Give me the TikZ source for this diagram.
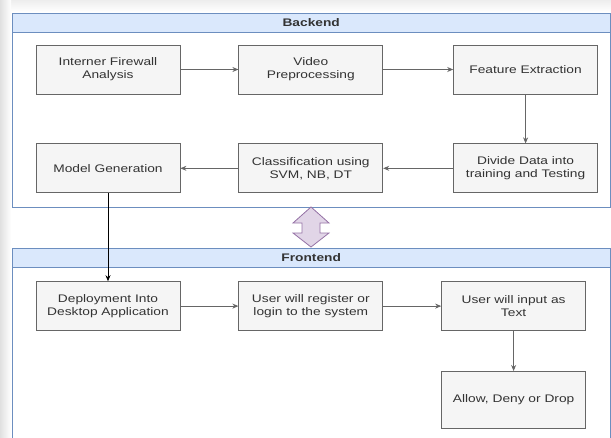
\documentclass[tikz,border=0pt]{standalone}
\usepackage{fontspec}
\setmainfont{Liberation Sans}[FakeStretch=1.25]
\usepackage{xcolor}
\usepackage{tikz}
\usetikzlibrary{arrows.meta, positioning, calc}

\definecolor{boxfill}{HTML}{F5F5F5}
\definecolor{boxline}{HTML}{666666}
\definecolor{boxtext}{HTML}{333333}
\definecolor{lanefill}{HTML}{DAE8FC}
\definecolor{laneline}{HTML}{6C8EBF}
\definecolor{swapfill}{HTML}{E1D5E7}
\definecolor{swapline}{HTML}{9673A6}

\begin{document}
\begin{tikzpicture}[x=1pt, y=-1pt,
    box/.style={rectangle, draw=boxline, fill=boxfill, text=boxtext, thick, font=\fontsize{11}{13}\selectfont, minimum width=144pt, minimum height=49pt, inner sep=2pt, align=center},
    lanehead/.style={rectangle, draw=laneline, fill=lanefill, text=boxtext, font=\fontsize{11}{13}\selectfont\bfseries, minimum width=598pt, minimum height=19pt, inner sep=0pt, anchor=north west},
    lane/.style={draw=laneline, fill=white},
    e/.style={-{Stealth[length=6pt, width=5pt]}, draw=boxline, thick},
]
    \useasboundingbox (0,0) rectangle (611,437);
    \clip (0,0) rectangle (611,437);
    \shade[top color=black!7, bottom color=white] (0,0) rectangle (611,12);
    \shade[left color=black!12, right color=white] (0,0) rectangle (11,437);

    % containers
    \node[lanehead] (back) at (12,13) {Backend};
    \draw[lane] (back.south west) rectangle (610,207);
    \node[lanehead] (front) at (12,248) {Frontend};
    \draw[lane] (front.south west) rectangle (610,445);

    % backend steps
    \node[box] (n1) at (108,69.5) {Interner Firewall\\Analysis};
    \node[box, right=58pt of n1] (n2) {Video\\Preprocessing};
    \node[box, right=70pt of n2] (n3) {Feature Extraction};
    \node[box, below=49pt of n3] (n4) {Divide Data into\\training and Testing};
    \node[box, left=70pt of n4] (n5) {Classification using\\SVM, NB, DT};
    \node[box, left=58pt of n5] (n6) {Model Generation};

    % frontend steps
    \node[box, below=88pt of n6] (n7) {Deployment Into\\Desktop Application};
    \node[box, right=58pt of n7] (n8) {User will register or\\login to the system};
    \node[box, right=58pt of n8] (n9) {User will input as\\Text};
    \node[box, below=40pt of n9, minimum height=57pt] (n10) {Allow, Deny or Drop};

    % link between the two parts
    \coordinate (sw) at (311,227);
    \draw[fill=swapfill, draw=swapline, thick]
        ($(sw)+(0,-20)$) -- ($(sw)+(18,-4)$) -- ($(sw)+(9,-4)$) -- ($(sw)+(9,6)$)
        -- ($(sw)+(18,6)$) -- ($(sw)+(0,20)$) -- ($(sw)+(-18,6)$) -- ($(sw)+(-9,6)$)
        -- ($(sw)+(-9,-4)$) -- ($(sw)+(-18,-4)$) -- cycle;

    \draw[e] (n1) -- (n2);
    \draw[e] (n2) -- (n3);
    \draw[e] (n3) -- (n4);
    \draw[e] (n4) -- (n5);
    \draw[e] (n5) -- (n6);
    \draw[e, draw=black] (n6) -- (n7);
    \draw[e] (n7) -- (n8);
    \draw[e] (n8) -- (n9);
    \draw[e] (n9) -- (n10);
\end{tikzpicture}
\end{document}
